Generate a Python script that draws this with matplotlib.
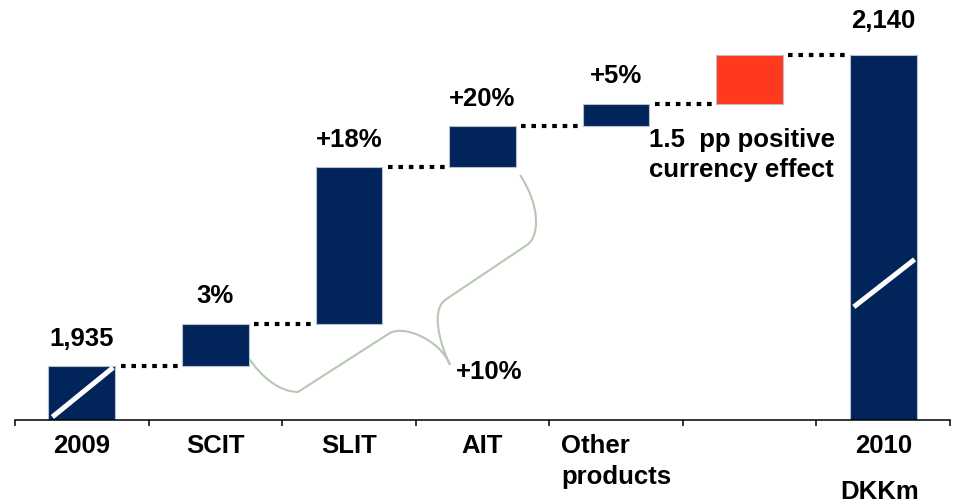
import matplotlib
matplotlib.use("Agg")
import matplotlib.pyplot as plt
from matplotlib.path import Path
from matplotlib.patches import PathPatch
from matplotlib.transforms import blended_transform_factory

plt.rcParams['font.family'] = ['Liberation Sans', 'DejaVu Sans']
plt.rcParams['font.weight'] = 'bold'

# waterfall data, DKKm
categories = ['2009', 'SCIT', 'SLIT', 'AIT', 'Other\nproducts', '', '2010']
start_value = 1935
end_value = 2140
steps = [28, 103, 27, 15, 32]   # SCIT, SLIT, AIT, other products, currency
bar_labels = ['1,935', '3%', '+18%', '+20%', '+5%', '', '2,140']

navy = '#01245a'
red = '#ff391e'
brace_col = '#b6c8b2'
fs = 18.5

fig = plt.figure(figsize=(9.54, 5.03), dpi=100)
ax = fig.add_axes([15 / 954, 83 / 503, 935 / 954, 420 / 503])
y0, y1 = 1899.4, 2176.3
ax.set_xlim(-0.5, 6.5)
ax.set_ylim(y0, y1)

# bottoms and heights for each bar
bottoms = [y0]
heights = [start_value - y0]
level = start_value
for s in steps:
    bottoms.append(level)
    heights.append(s)
    level += s
bottoms.append(y0)
heights.append(end_value - y0)
colors = [navy] * 5 + [red, navy]

xs = list(range(len(categories)))
ax.bar(xs, heights, bottom=bottoms, width=0.5, color=colors,
       edgecolor='#b9c0cc', linewidth=0.8, zorder=2)

# dotted connectors between bars
tops = [b + h for b, h in zip(bottoms, heights)]
for i in range(len(xs) - 1):
    ax.plot([xs[i] + 0.29, xs[i + 1] - 0.265], [tops[i], tops[i]],
            color='black', linewidth=3, linestyle=(0, (1.1, 1.4)),
            dash_capstyle='butt', zorder=3)

# axis break marks on the total bars
ax.plot([-0.22, 0.235], [y0 + 2, start_value - 1], color='white',
        linewidth=3.6, solid_capstyle='butt', zorder=4)
ax.plot([6 - 0.22, 6 + 0.235], [y0 + 0.31 * heights[-1], y0 + 0.44 * heights[-1]],
        color='white', linewidth=3.6, solid_capstyle='butt', zorder=4)

# value labels
for i, lab in enumerate(bar_labels):
    if not lab:
        continue
    off = 16 if i == len(xs) - 1 else 11
    ax.annotate(lab, (xs[i], tops[i]), xytext=(0, off), textcoords='offset points',
                ha='center', va='bottom', fontsize=fs, fontweight='bold')

# brace grouping SCIT..AIT
left_arm = [(1.244, 1940.9), (1.349, 1927.1), (1.484, 1917.9), (1.619, 1917.9),
            (2.307, 1956.8),
            (2.420, 1962.0), (2.682, 1952.1), (2.757, 1935.7)]
right_arm = [(2.757, 1935.7), (2.667, 1952.1), (2.622, 1971.9), (2.719, 1978.5),
             (3.333, 2014.8),
             (3.431, 2020.7), (3.431, 2041.1), (3.281, 2060.9)]
codes_l = [Path.MOVETO, Path.CURVE4, Path.CURVE4, Path.CURVE4, Path.LINETO,
           Path.CURVE4, Path.CURVE4, Path.CURVE4]
for pts in (left_arm, right_arm):
    ax.add_patch(PathPatch(Path(pts, codes_l), facecolor='none',
                           edgecolor=brace_col, linewidth=1.5, zorder=1))
ax.text(2.8, 1931, '+10%', ha='left', va='center', fontsize=fs, fontweight='bold')

# currency note under the other-products bar
ax.text(4.25, bottoms[4] - 1, '1.5  pp positive\ncurrency effect', ha='left', va='top',
        fontsize=fs, fontweight='bold', linespacing=1.3)

# axis: only bottom spine, ticks at category boundaries
for side in ['top', 'right', 'left']:
    ax.spines[side].set_visible(False)
ax.spines['bottom'].set_linewidth(1.1)
ax.set_yticks([])
ax.set_xticks([i - 0.5 for i in range(len(xs) + 1)])
ax.set_xticklabels([])
ax.tick_params(axis='x', which='major', direction='out', length=4.5, width=1.1)
ax.set_xticks(xs, minor=True)
ax.set_xticklabels(categories, minor=True, fontsize=fs, fontweight='bold')
ax.tick_params(axis='x', which='minor', length=0, pad=10)
for t in ax.get_xticklabels(minor=True):
    t.set_multialignment('left')
    t.set_linespacing(1.4)

tr = blended_transform_factory(ax.transData, fig.transFigure)
ax.text(5.97, 1 - 492 / 503, 'DKKm', transform=tr, ha='center', va='center',
        fontsize=fs, fontweight='bold')

fig.savefig('out.png', dpi=100)
